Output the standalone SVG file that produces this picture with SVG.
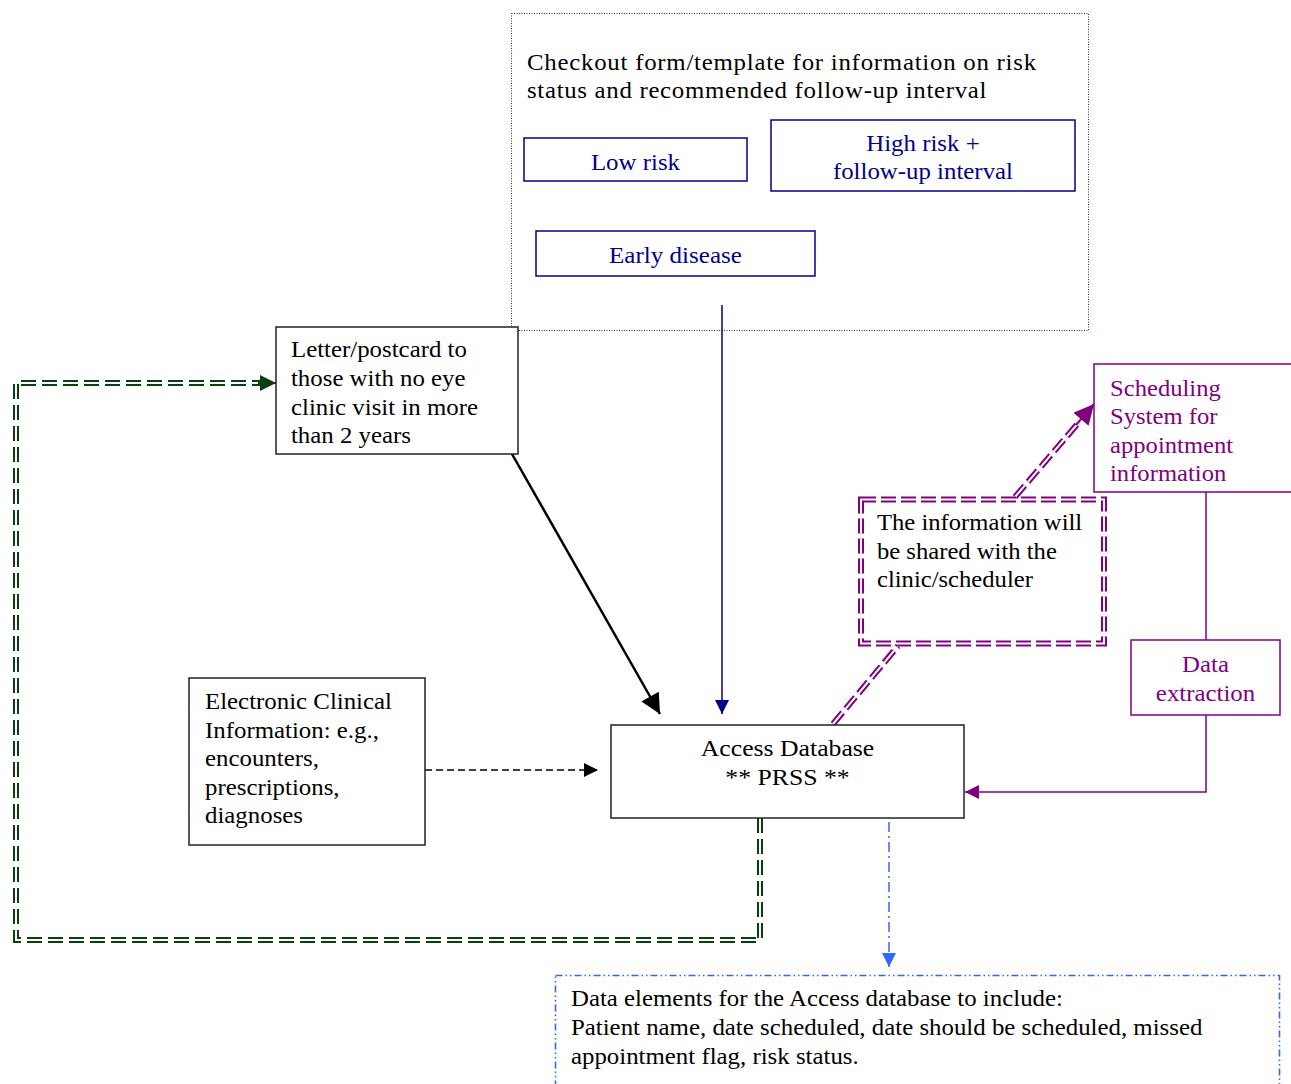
<svg xmlns="http://www.w3.org/2000/svg" width="1291" height="1084" viewBox="0 0 1291 1084">
<style>
text{font-family:"Liberation Serif","Times New Roman",serif;font-size:23px;}
.blk{fill:#000;}
.navy{fill:#00008b;}
.pur{fill:#800080;}
.box{fill:#fff;stroke:#222;stroke-width:1.5;}
.nbox{fill:none;stroke:#00008b;stroke-width:1.5;}
.pbox{fill:#fff;stroke:#800080;stroke-width:1.5;}
</style>
<defs>
<marker id="mBlack" viewBox="0 0 10 10" refX="10" refY="5" markerWidth="22" markerHeight="20" markerUnits="userSpaceOnUse" orient="auto"><path d="M0,0 L10,5 L0,10z" fill="#000"/></marker>
<marker id="mBlackS" viewBox="0 0 10 10" refX="10" refY="5" markerWidth="16" markerHeight="14" markerUnits="userSpaceOnUse" orient="auto"><path d="M0,0 L10,5 L0,10z" fill="#000"/></marker>
<marker id="mNavy" viewBox="0 0 10 10" refX="10" refY="5" markerWidth="16" markerHeight="14" markerUnits="userSpaceOnUse" orient="auto"><path d="M0,0 L10,5 L0,10z" fill="#00008b"/></marker>
<marker id="mGreen" viewBox="0 0 10 10" refX="10" refY="5" markerWidth="18" markerHeight="16" markerUnits="userSpaceOnUse" orient="auto"><path d="M0,0 L10,5 L0,10z" fill="#0a4010"/></marker>
<marker id="mPur" viewBox="0 0 10 10" refX="10" refY="5" markerWidth="16" markerHeight="14" markerUnits="userSpaceOnUse" orient="auto"><path d="M0,0 L10,5 L0,10z" fill="#800080"/></marker>
<marker id="mPurL" viewBox="0 0 10 10" refX="10" refY="5" markerWidth="24" markerHeight="20" markerUnits="userSpaceOnUse" orient="auto"><path d="M0,0 L10,5 L0,10z" fill="#800080"/></marker>
<marker id="mBlue" viewBox="0 0 10 10" refX="10" refY="5" markerWidth="16" markerHeight="14" markerUnits="userSpaceOnUse" orient="auto"><path d="M0,0 L10,5 L0,10z" fill="#3366ff"/></marker>
</defs>

<g id="checkout">
<rect x="511.5" y="13.5" width="577" height="317" fill="#fff" stroke="#2020b0" stroke-width="1" stroke-dasharray="1 1.5"/>
<g transform="matrix(1.081 0 0 1 -42.7 0)">
<text class="blk" x="527" y="70" textLength="471" lengthAdjust="spacing">Checkout form/template for information on risk</text>
<text class="blk" x="527" y="98" textLength="425" lengthAdjust="spacing">status and recommended follow-up interval</text>
</g>
</g>
<g id="lowrisk">
<rect class="nbox" x="524" y="138" width="223" height="43"/>
<text class="navy" x="635.5" y="170" text-anchor="middle" transform="matrix(1.081 0 0 1 -51.5 0)">Low risk</text>
</g>
<g id="highrisk">
<rect class="nbox" x="771" y="120" width="304" height="71"/>
<g transform="matrix(1.081 0 0 1 -74.8 0)">
<text class="navy" x="923" y="151" text-anchor="middle">High risk +</text>
<text class="navy" x="923" y="179" text-anchor="middle">follow-up interval</text>
</g>
</g>
<g id="early">
<rect class="nbox" x="536" y="231" width="279" height="45"/>
<text class="navy" x="675.5" y="263" text-anchor="middle" transform="matrix(1.09 0 0 1 -60.8 0)">Early disease</text>
</g>

<g id="connectors">
<line x1="722" y1="305" x2="722" y2="714" stroke="#00008b" stroke-width="1.5" marker-end="url(#mNavy)"/>
<line x1="512" y1="454" x2="660" y2="714" stroke="#000" stroke-width="2.5" marker-end="url(#mBlack)"/>
<line x1="425" y1="770" x2="598" y2="770" stroke="#000" stroke-width="1.5" stroke-dasharray="7 4" marker-end="url(#mBlackS)"/>
<path d="M760,818 V940 H16 V383 H260" fill="none" stroke="#0a4010" stroke-width="6" stroke-dasharray="15 6"/>
<path d="M760,818 V940 H16 V383 H260" fill="none" stroke="#fff" stroke-width="2" stroke-dasharray="15 6"/>
<line x1="258" y1="383" x2="276" y2="383" stroke="#0a4010" stroke-width="2" marker-end="url(#mGreen)"/>
<line x1="833" y1="724" x2="898" y2="646" stroke="#800080" stroke-width="6" stroke-dasharray="15 5"/>
<line x1="833" y1="724" x2="898" y2="646" stroke="#fff" stroke-width="2" stroke-dasharray="15 5"/>
<line x1="1015" y1="497" x2="1080" y2="421" stroke="#800080" stroke-width="6" stroke-dasharray="15 5"/>
<line x1="1015" y1="497" x2="1080" y2="421" stroke="#fff" stroke-width="2" stroke-dasharray="15 5"/>
<line x1="1076" y1="425" x2="1094" y2="404" stroke="#800080" stroke-width="2" marker-end="url(#mPurL)"/>
<line x1="1206" y1="492" x2="1206" y2="640" stroke="#800080" stroke-width="1.5"/>
<path d="M1206,715 V792 H965" fill="none" stroke="#800080" stroke-width="1.5" marker-end="url(#mPur)"/>
<line x1="889" y1="822" x2="889" y2="967" stroke="#3366ff" stroke-width="1.5" stroke-dasharray="10 4 2 4" marker-end="url(#mBlue)"/>
</g>

<g id="letter">
<rect class="box" x="276" y="327" width="242" height="127"/>
<g transform="matrix(1.081 0 0 1 -23.6 0)">
<text class="blk" x="291" y="357">Letter/postcard to</text>
<text class="blk" x="291" y="386">those with no eye</text>
<text class="blk" x="291" y="415">clinic visit in more</text>
<text class="blk" x="291" y="443">than 2 years</text>
</g>
</g>

<g id="electronic">
<rect class="box" x="189" y="678" width="236" height="167"/>
<g transform="matrix(1.081 0 0 1 -16.6 0)">
<text class="blk" x="205" y="709">Electronic Clinical</text>
<text class="blk" x="205" y="738">Information: e.g.,</text>
<text class="blk" x="205" y="766">encounters,</text>
<text class="blk" x="205" y="795">prescriptions,</text>
<text class="blk" x="205" y="823">diagnoses</text>
</g>
</g>

<g id="access">
<rect class="box" x="611" y="725" width="353" height="93"/>
<g transform="matrix(1.119 0 0 1 -93.7 0)">
<text class="blk" x="787.5" y="756" text-anchor="middle">Access Database</text>
<text class="blk" x="787.5" y="785" text-anchor="middle">** PRSS **</text>
</g>
</g>

<g id="info">
<rect x="861" y="499.5" width="243" height="144" fill="#fff" stroke="#800080" stroke-width="6" stroke-dasharray="15 5"/>
<rect x="861" y="499.5" width="243" height="144" fill="none" stroke="#fff" stroke-width="2" stroke-dasharray="15 5"/>
<g transform="matrix(1.071 0 0 1 -62.3 0)">
<text class="blk" x="877" y="530">The information will</text>
<text class="blk" x="877" y="559">be shared with the</text>
<text class="blk" x="877" y="587">clinic/scheduler</text>
</g>
</g>

<g id="scheduling">
<rect class="pbox" x="1094" y="364" width="205" height="128"/>
<g transform="matrix(1.071 0 0 1 -78.8 0)">
<text class="pur" x="1110" y="396">Scheduling</text>
<text class="pur" x="1110" y="424">System for</text>
<text class="pur" x="1110" y="453">appointment</text>
<text class="pur" x="1110" y="481">information</text>
</g>
</g>

<g id="extraction">
<rect class="pbox" x="1131" y="640" width="149" height="75"/>
<g transform="matrix(1.081 0 0 1 -97.6 0)">
<text class="pur" x="1205.5" y="672" text-anchor="middle">Data</text>
<text class="pur" x="1205.5" y="701" text-anchor="middle">extraction</text>
</g>
</g>

<g id="elements">
<rect x="555.5" y="975.5" width="724" height="130" fill="#fff" stroke="#3366ff" stroke-width="1.6" stroke-dasharray="7 3 1.5 3 1.5 3"/>
<g transform="matrix(1.081 0 0 1 -46.3 0)">
<text class="blk" x="571" y="1006">Data elements for the Access database to include:</text>
<text class="blk" x="571" y="1035">Patient name, date scheduled, date should be scheduled, missed</text>
<text class="blk" x="571" y="1064">appointment flag, risk status.</text>
</g>
</g>
</svg>
